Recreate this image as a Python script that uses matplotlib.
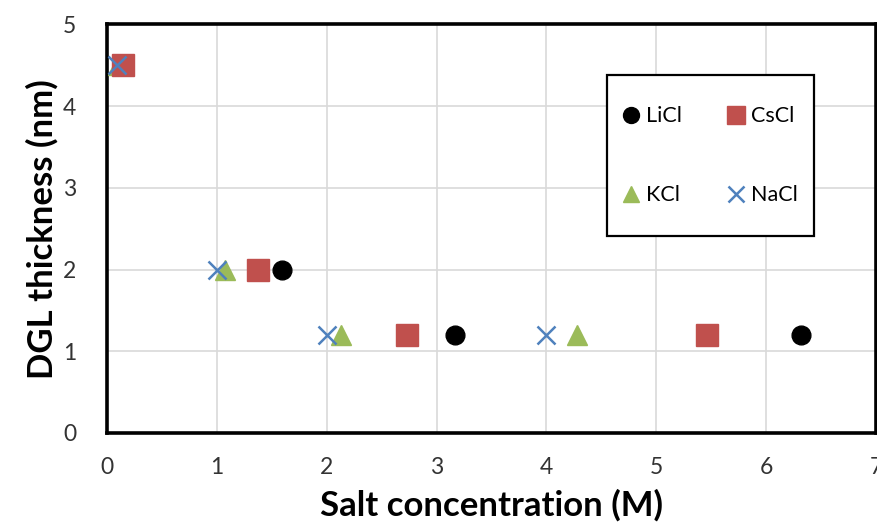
import matplotlib.pyplot as plt
from matplotlib.patches import Rectangle

# DGL thickness vs. salt concentration for four chloride salts
thickness = [4.5, 2.0, 1.2, 1.2]

licl_conc = [1.59, 3.17, 6.32]
licl_thk = [2.0, 1.2, 1.2]

cscl_conc = [0.15, 1.37, 2.73, 5.46]
kcl_conc = [0.10, 1.07, 2.13, 4.28]
nacl_conc = [0.09, 1.00, 2.00, 4.00]

plt.rcParams['font.family'] = ['Lato', 'DejaVu Sans']

fig = plt.figure(figsize=(8.77, 5.22), dpi=100)
ax = fig.add_axes([0.122, 0.1705, 0.877, 0.783])

ax.plot(licl_conc, licl_thk, 'o', color='black', markersize=13.5, label='LiCl', zorder=3)
ax.plot(kcl_conc, thickness, '^', color='#9BBB59', markersize=14, label='KCl', zorder=3)
ax.plot(cscl_conc, thickness, 's', color='#C0504D', markersize=15.5, label='CsCl', zorder=3)
ax.plot(nacl_conc, thickness, 'x', color='#4F81BD', markersize=13, markeredgewidth=1.8,
        label='NaCl', zorder=4)

ax.set_xlim(0, 7)
ax.set_ylim(0, 5)
ax.set_xticks(range(0, 8))
ax.set_yticks(range(0, 6))
ax.grid(True, color='#D9D9D9', linewidth=1.2)
ax.set_axisbelow(True)
for s in ax.spines.values():
    s.set_linewidth(2.6)
    s.set_color('black')
ax.tick_params(length=0, labelsize=16.5, colors='#333333')
ax.tick_params(axis='x', pad=17)
ax.tick_params(axis='y', pad=22)

ax.set_xlabel('Salt concentration (M)', fontsize=25, fontweight='bold', labelpad=8)
ax.set_ylabel('DGL thickness (nm)', fontsize=25, fontweight='bold', labelpad=3)

# legend box drawn separately so padding can differ horizontally/vertically
box = Rectangle((0.650, 0.482), 0.269, 0.393, transform=ax.transAxes,
                facecolor='white', edgecolor='black', linewidth=1.6, zorder=5)
ax.add_patch(box)
leg = ax.legend(ncol=2, loc='center', bbox_to_anchor=(0.7845, 0.6785),
                borderaxespad=0, fontsize=15.5, frameon=False,
                labelspacing=2.75, columnspacing=2.1, handlelength=0.8,
                handletextpad=0.3, markerscale=0.85)
leg.set_zorder(6)

fig.savefig('out.png', dpi=100)
